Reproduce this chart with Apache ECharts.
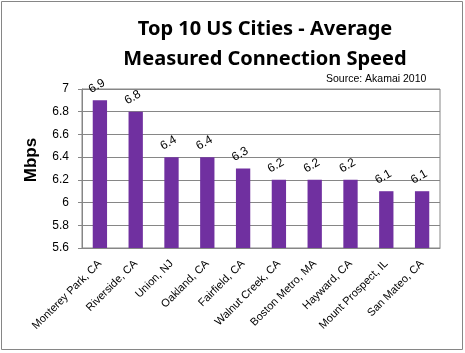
<!DOCTYPE html>
<html>
<head>
<meta charset="utf-8">
<script src="https://cdn.jsdelivr.net/npm/echarts@6/dist/echarts.min.js"></script>
<style>
html, body { margin: 0; padding: 0; background: #fff; }
#chart { width: 465px; height: 353px; }
</style>
</head>
<body>
<div id="chart"></div>
<script>
const cities = ['Monterey Park, CA', 'Riverside, CA', 'Union, NJ', 'Oakland, CA', 'Fairfield, CA',
    'Walnut Creek, CA', 'Boston Metro, MA', 'Hayward, CA', 'Mount Prospect, IL', 'San Mateo, CA']
const speeds = [6.9, 6.8, 6.4, 6.4, 6.3, 6.2, 6.2, 6.2, 6.1, 6.1]
const yMin = 5.6, yMax = 7, yStep = 0.2

const font = 'Liberation Sans'
const chart = echarts.init(document.getElementById('chart'))
chart.setOption({
    animation: false,
    textStyle: {fontFamily: font},
    title: [{
        text: 'Top 10 US Cities - Average\nMeasured Connection Speed',
        left: 260, top: 9, textAlign: 'center',
        textStyle: {fontSize: 20, fontWeight: 'bold', color: '#000', lineHeight: 30, fontFamily: 'Noto Sans'}
    }, {
        text: 'Source: Akamai 2010',
        left: 321, top: 69,
        textStyle: {fontSize: 10.5, fontWeight: 'normal', color: '#000', fontFamily: font}
    }],
    graphic: [{
        type: 'rect', shape: {x: 1.5, y: 1.5, width: 461, height: 348},
        style: {fill: null, stroke: '#868686', lineWidth: 1}, silent: true
    }, {
        type: 'text', x: 31, y: 160, rotation: Math.PI / 2,
        style: {text: 'Mbps', fontSize: 17, fontWeight: 'bold', fontFamily: font, fill: '#000',
            align: 'center', verticalAlign: 'middle'},
        silent: true
    }],
    grid: {left: 82, right: 25, top: 89, bottom: 105, show: true, borderColor: '#868686', borderWidth: 1},
    xAxis: {
        type: 'category', data: cities,
        axisLine: {lineStyle: {color: '#868686'}},
        axisTick: {length: 4, lineStyle: {color: '#868686'}},
        axisLabel: {rotate: 45, color: '#000', fontSize: 11, interval: 0, margin: 14}
    },
    yAxis: {
        type: 'value', min: yMin, max: yMax, interval: yStep,
        axisLine: {show: true, lineStyle: {color: '#868686'}},
        axisTick: {show: true, length: 4, lineStyle: {color: '#868686'}},
        splitLine: {lineStyle: {color: '#868686'}},
        axisLabel: {color: '#000', fontSize: 12, margin: 13,
            formatter: v => String(Math.round(v * 10) / 10)}
    },
    series: [{
        type: 'bar', data: speeds, barWidth: '40%',
        itemStyle: {color: '#7030A0'},
        label: {show: true, position: 'top', rotate: 30, distance: 9, color: '#000', fontSize: 12,
            formatter: p => p.value.toFixed(1)}
    }]
})
</script>
</body>
</html>
